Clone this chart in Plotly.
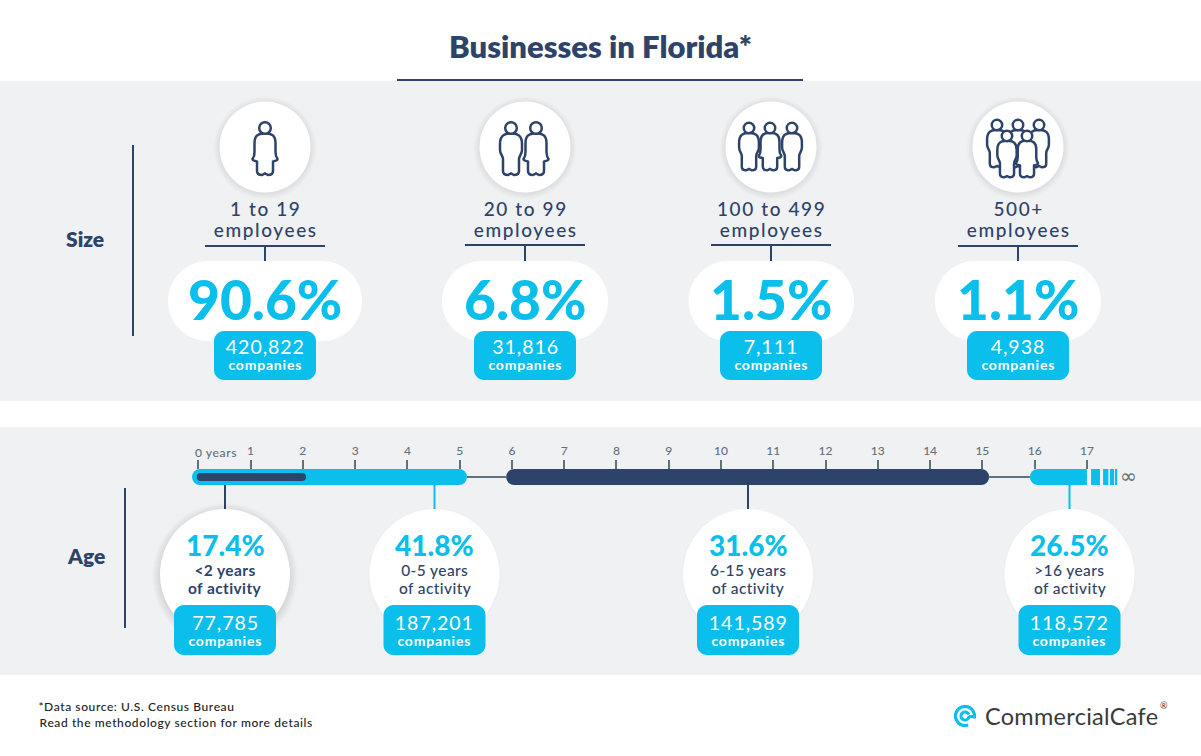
import numpy as np
import plotly.graph_objects as go

# ---------- data ----------
title = "Businesses in Florida*"
size_low = ["1 to 19", "20 to 99", "100 to 499", "500+"]
size_pct = ["90.6%", "6.8%", "1.5%", "1.1%"]
size_companies = ["420,822", "31,816", "7,111", "4,938"]
age_pct = ["17.4%", "41.8%", "31.6%", "26.5%"]
age_group = ["<2 years", "0-5 years", "6-15 years", ">16 years"]
age_companies = ["77,785", "187,201", "141,589", "118,572"]
year_ticks = list(range(18))
year_text = [""] + [str(y) for y in year_ticks[1:]]
span_light_a = (-0.12, 5.14)
span_dark_inner = (-0.03, 2.06)
span_dark_b = (5.89, 15.13)
span_light_c = (15.91, 17.0)
span_light_c_square = (16.5, 17.0)
stripe_start = [17.08, 17.31, 17.44, 17.55]
stripe_len = [0.17, 0.1, 0.08, 0.03]
link_spans = [(5.14, 5.89), (15.13, 15.91)]

# ---------- layout constants ----------
W, H = 1201, 756
NAVY = "#2e4369"
CYAN = "#0bbfec"
GREY = "#f0f1f3"
TICK = "#5f707e"
FONT = "Lato"
X0, PX_PER_YEAR = 198.3, 52.27
BAR_Y = 477

size_x = [265, 525, 771, 1018]
size_rule_y = [246, 245, 245, 246]
pill_w = [194, 166, 166, 166]
age_x = [225, 434.5, 748, 1069.5]

shapes, notes = [], []


def rect(x0, y0, x1, y1, fill, layer="below"):
    shapes.append(dict(type="rect", x0=x0, y0=y0, x1=x1, y1=y1, fillcolor=fill,
                       line_width=0, layer=layer, xref="x", yref="y"))


def line(x0, y0, x1, y1, color, w=2, xref="x"):
    shapes.append(dict(type="line", x0=x0, y0=y0, x1=x1, y1=y1, layer="below",
                       line=dict(color=color, width=w), xref=xref, yref="y"))


def rrect(x0, y0, x1, y1, r, fill):
    k = 0.5523 * r
    p = (f"M{x0+r},{y0} L{x1-r},{y0} C{x1-r+k},{y0} {x1},{y0+r-k} {x1},{y0+r} "
         f"L{x1},{y1-r} C{x1},{y1-r+k} {x1-r+k},{y1} {x1-r},{y1} "
         f"L{x0+r},{y1} C{x0+r-k},{y1} {x0},{y1-r+k} {x0},{y1-r} "
         f"L{x0},{y0+r} C{x0},{y0+r-k} {x0+r-k},{y0} {x0+r},{y0} Z")
    shapes.append(dict(type="path", path=p, fillcolor=fill, line_width=0,
                       layer="below", xref="x", yref="y"))


def circle(cx, cy, r, fill="white", stroke=None, w=0):
    shapes.append(dict(type="circle", x0=cx-r, x1=cx+r, y0=cy-r, y1=cy+r,
                       fillcolor=fill, layer="below", xref="x", yref="y",
                       line=dict(color=stroke or fill, width=w)))


def shadow(cx, cy, r, spread=6, alpha=0.012, dy=1):
    for i in range(spread, 0, -1):
        circle(cx, cy + dy, r + i, f"rgba(0,0,0,{alpha})")


def text(x, y, s, size, color=NAVY, weight=400, anchor="center", font=FONT):
    notes.append(dict(x=x, y=y, text=s, showarrow=False, xref="x", yref="y",
                      xanchor=anchor, yanchor="middle",
                      font=dict(family=font, size=size, color=color, weight=weight)))


def person(cx, head_y, s=1.0, female=False):
    """Outline figure, described in its own local units."""
    def P(x, y):
        return f"{cx + x*s:.2f},{head_y + y*s:.2f}"
    if female:
        right = [("C", (7, 5), (10.5, 8), (10.5, 15)), ("L", (10.5, 24)),
                 ("C", (10.5, 28), (11, 29), (12.5, 31)), ("C", (12.5, 33), (9, 33), (8, 33.5)),
                 ("L", (8, 43)), ("C", (8, 46), (6, 47), (3, 47)), ("L", (0, 45.5))]
    else:
        right = [("C", (7, 5), (11, 8), (11, 16)), ("L", (11, 22)), ("C", (11, 26), (8, 28), (8, 31)),
                 ("L", (8, 43)), ("C", (8, 46), (6, 47), (3, 47)), ("L", (0, 45.5))]
    d = "M" + P(0, 5.5)
    for seg in right:
        d += f" {seg[0]}" + " ".join(P(*q) for q in seg[1:])
    ends = [(0, 5.5)] + [seg[-1] for seg in right]
    for i in range(len(right) - 1, -1, -1):
        seg = right[i]
        x, y = ends[i]
        if seg[0] == "L":
            d += " L" + P(-x, y)
        else:
            a, b = seg[1], seg[2]
            d += " C" + " ".join(P(-q[0], q[1]) for q in (b, a, (x, y)))
    d += " Z"
    shapes.append(dict(type="path", path=d, fillcolor="white", layer="below", xref="x", yref="y",
                       line=dict(color=NAVY, width=2.5)))
    circle(cx, head_y, 5.8 * max(s, 0.9), "white", NAVY, 2.5)


# ---------- panels & title ----------
rect(0, 81, W, 401, GREY)
rect(0, 427, W, 675, GREY)
line(397, 80, 803, 80, NAVY)
text(600, 46, title, 31, NAVY, 800)
text(85, 238, "Size", 21, NAVY, 800)
line(133, 145, 133, 336, NAVY)
text(86, 555, "Age", 21, NAVY, 800)
line(125, 488, 125, 628, NAVY)

# ---------- size column ----------
for i, cx in enumerate(size_x):
    shadow(cx, 147, 45.5)
    circle(cx, 147, 45.5)
    ry = size_rule_y[i]
    line(cx - 60, ry, cx + 60, ry, NAVY)
    line(cx, ry, cx, 262, NAVY)
    hw = pill_w[i] / 2
    rrect(cx - hw + (i == 2) * 0.5, 261, cx + hw, 341, 40, "white")
    rrect(cx - 51, 331, cx + 51, 380, 10, CYAN)
    text(cx, 221.3, size_low[i] + "<br>employees", 19, NAVY, 500)
    text(cx, 298.5, size_pct[i], 55, CYAN, 900)
    text(cx, 346.5, size_companies[i], 19.6, "white", 400)
    text(cx, 364.5, "companies", 14, "white", 700)

person(265, 128, 1.0, True)
person(511, 128, 1.0, False)
person(536, 128, 1.0, True)
person(749, 128, 0.9, False)
person(792, 128, 0.9, False)
person(770, 128, 0.9, True)
person(997, 125, 0.9, False)
person(1039, 125, 0.9, False)
person(1018, 125, 0.9, False)
person(1007, 136, 0.88, False)
person(1027, 136, 0.88, True)

# ---------- age column ----------
for s0, s1 in link_spans:
    line(s0, BAR_Y, s1, BAR_Y, TICK, 2, xref="x2")
link_colors = [NAVY, CYAN, NAVY, CYAN]
for i, cx in enumerate(age_x):
    line(cx, 481, cx, 510, link_colors[i])
    if i == 0:
        shadow(cx, 574, 65, spread=8, alpha=0.012, dy=2)
    else:
        shadow(cx, 574, 65, spread=3, alpha=0.004)
    circle(cx, 574, 65)
    rrect(cx - 51, 605, cx + 51, 655, 10, CYAN)
    text(cx, 545, age_pct[i], 28, CYAN, 900)
    w = 700 if i == 0 else 500
    text(cx, 570, age_group[i], 15.5, NAVY, w)
    text(cx, 588, "of activity", 15.5, NAVY, w)
    text(cx, 622, age_companies[i], 19.6, "white", 400)
    text(cx, 640, "companies", 14, "white", 700)

text(216, 452, "0 years", 12.1, TICK, 500)
text(1128, 476, "∞", 20, TICK, 400, font="DejaVu Sans")

# ---------- footer ----------
text(136.5, 706, "*Data source: U.S. Census Bureau", 12, "#222222", 500)
text(175.5, 722, "Read the methodology section for more details", 12, "#222222", 500)
text(1071.5, 716, "CommercialCafe", 23.5, "#3a3a3a", 400)
text(1164, 705, "®", 9, "#3a3a3a")


def arc(cx, cy, r, a0, a1, w):
    t = np.radians(np.linspace(a0, a1, 40))
    d = "M" + " L".join(f"{cx + r*np.cos(a):.2f},{cy + r*np.sin(a):.2f}" for a in t)
    shapes.append(dict(type="path", path=d, layer="below", xref="x", yref="y",
                       line=dict(color=CYAN, width=w)))


arc(965, 716, 9.5, 70, 375, 3.2)
arc(965, 716, 4, 0, 340, 3)
line(969, 716.5, 976, 716.5, CYAN, 3)

# ---------- figure ----------
fig = go.Figure()


def span(s, color, h, radius):
    a, b = s
    fig.add_trace(go.Bar(x=[b - a], base=[a], y=[BAR_Y], width=h, orientation="h",
                         xaxis="x2", yaxis="y", hoverinfo="skip", showlegend=False,
                         marker=dict(color=color, line_width=0, cornerradius=radius)))


# keep the axis pair registered on the pixel layer too
fig.add_trace(go.Scatter(x=[0, W], y=[0, H], mode="markers", marker_opacity=0,
                         hoverinfo="skip", showlegend=False))
span(span_light_a, CYAN, 16, 8)
span(span_dark_inner, NAVY, 8, 4)
span(span_dark_b, NAVY, 16, 8)
span(span_light_c, CYAN, 16, 8)
span(span_light_c_square, CYAN, 16, 0)
fig.add_trace(go.Bar(x=stripe_len, base=stripe_start, y=[BAR_Y] * len(stripe_len), width=16,
                     orientation="h", xaxis="x2", yaxis="y", hoverinfo="skip", showlegend=False,
                     marker=dict(color=CYAN, line_width=0)))

fig.update_layout(
    width=W, height=H, margin=dict(l=0, r=0, t=0, b=0), autosize=False,
    paper_bgcolor="white", plot_bgcolor="white", barmode="overlay",
    showlegend=False, shapes=shapes, annotations=notes,
    xaxis=dict(range=[0, W], visible=False, domain=[0, 1], fixedrange=True),
    yaxis=dict(range=[H, 0], visible=False, domain=[0, 1], fixedrange=True),
    xaxis2=dict(range=[-X0 / PX_PER_YEAR, (W - X0) / PX_PER_YEAR], overlaying="x", anchor="free",
                position=1 - 469 / H, side="top", showgrid=False, zeroline=False, showline=False,
                tickmode="array", tickvals=year_ticks, ticktext=year_text, ticks="outside",
                ticklen=9, tickwidth=2, tickcolor=TICK, ticklabelstandoff=0,
                tickfont=dict(family=FONT, size=12, color=TICK, weight=500), fixedrange=True),
)

post = """
document.body.style.margin='0';document.body.style.overflow='hidden';
function spaceText(){
  var m={'19px':'1.6px','19.6px':'0.9px','14px':'0.8px','15.5px':'0.4px','12px':'0.6px','12.1px':'0.6px','23.5px':'0.3px'};
  document.querySelectorAll('.annotation-text').forEach(function(t){
    var k=m[t.style.fontSize]; if(k){t.style.letterSpacing=k;}
    if(t.style.fontSize==='19px'){
      t.querySelectorAll('tspan.line').forEach(function(l,i){ if(i>0){l.setAttribute('dy','1.08em');} });
    }
  });
}
spaceText();setTimeout(spaceText,50);setTimeout(spaceText,300);
"""
fig.write_html("out.html", config=dict(displayModeBar=False), post_script=post)
